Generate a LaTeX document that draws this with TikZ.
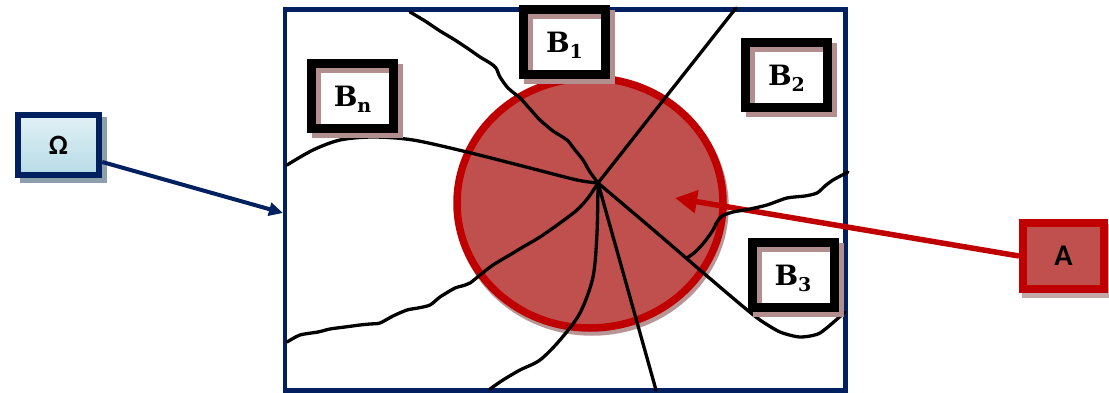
\documentclass[tikz,border=0pt]{standalone}
\usepackage{fontspec}
\newfontfamily\bfont{DejaVu Serif}
\newfontfamily\cfont{Carlito}
\usetikzlibrary{arrows.meta,shapes.geometric}
\definecolor{navy}{RGB}{0,32,96}
\definecolor{redline}{RGB}{192,0,0}
\definecolor{redfill}{RGB}{192,80,77}
\definecolor{shadowB}{RGB}{178,142,142}
\definecolor{shadowO}{RGB}{140,160,172}
\definecolor{shadowA}{RGB}{196,168,168}
\definecolor{shadowC}{RGB}{184,150,150}
\definecolor{omtop}{RGB}{226,241,246}
\definecolor{ombot}{RGB}{182,219,230}
\newcommand{\Bsub}[1]{B\raisebox{-6pt}[0pt][0pt]{\fontsize{19pt}{19pt}\selectfont #1}}
\tikzset{
  bbox/.style={preaction={fill=white},
    preaction={draw=shadowB, transform canvas={xshift=5pt,yshift=-5pt}},
    draw=black, line width=9pt, minimum width=82pt, minimum height=65pt,
    inner sep=0pt, font={\bfont\bfseries\fontsize{28pt}{30pt}\selectfont}},
  ombox/.style={preaction={fill=shadowO, draw=shadowO, transform canvas={xshift=5pt,yshift=-5pt}},
    draw=navy, line width=6.5pt, top color=omtop, bottom color=ombot,
    minimum width=81pt, minimum height=60pt, inner sep=0pt,
    font={\cfont\bfseries\fontsize{28pt}{30pt}\selectfont}},
  abox/.style={preaction={fill=shadowA, draw=shadowA, transform canvas={xshift=3pt,yshift=-5pt}},
    draw=redline, fill=redfill, line width=8pt,
    minimum width=81pt, minimum height=66pt, inner sep=0pt,
    font={\cfont\bfseries\fontsize{30pt}{32pt}\selectfont}},
  region/.style={ellipse, preaction={draw=shadowC, transform canvas={xshift=2pt,yshift=-4pt}},
    draw=redline, fill=redfill, line width=7.5pt, minimum width=266pt, minimum height=250pt, inner sep=0pt},
  frame/.style={draw=navy, line width=4.5pt, minimum width=560.5pt, minimum height=381pt, inner sep=0pt},
  crack/.style={draw=black, line width=3.3pt, line cap=round, line join=round},
  omarrow/.style={draw=navy, line width=4pt, -{Triangle[length=14pt,width=13pt]}},
  aarrow/.style={draw=redline, line width=5.5pt, -{Triangle[length=22pt,width=22pt]}},
}
\begin{document}
\begin{tikzpicture}[x=1pt,y=-1pt]
\useasboundingbox (0,0) rectangle (1109,393);
% domain frame and region
\node[frame] (dom) at (565.25,200) {};
\node[region] (reg) at (590,203) {};
\coordinate (p) at (598,183);
\coordinate (omtip) at (283,213);
\coordinate (atip) at (675,198);
% A box and arrow
\node[abox] (a) at (1063.5,256) {A};
\draw[aarrow] (a.west) -- (atip);
% cracks
\draw[crack] plot[smooth, tension=0.45] coordinates {(p) (590,172) (583,160) (575,150) (567,140) (553,131) (540,120) (530,109) (520,98) (508,88) (500,77) (496,68) (490,63) (480,57) (470,50) (455,40) (440,31) (425,21) (410,12)};
\draw[crack] (p) -- (736,8);
\draw[crack] plot[smooth, tension=0.5] coordinates {(p) (577,180) (530,168) (467,152) (413,140) (373,137) (340,140) (313,150) (287,165)};
\draw[crack] plot[smooth, tension=0.4] coordinates {(p) (650,227) (700,270) (740,304) (760,320) (780,332) (800,337) (820,333) (845,312)};
\draw[crack] plot[smooth, tension=0.45] coordinates {(687,258) (694,253) (700,247) (706,240) (713,230) (717,222) (722,216) (733,212) (750,209) (767,205) (787,198) (805,196) (817,193) (825,186) (833,180) (848,172)};
\draw[crack] (p) -- (656,390);
\draw[crack] plot[smooth, tension=0.5] coordinates {(p) (597,233) (593,277) (580,313) (560,340) (540,360) (520,370) (503,380) (490,389)};
\draw[crack] plot[smooth, tension=0.45] coordinates {(p) (588,198) (577,210) (560,223) (540,237) (523,247) (513,253) (493,265) (480,275) (470,283) (462,286) (455,288) (440,297) (430,305) (418,308) (407,310) (393,316) (380,323) (370,324) (360,325) (345,327) (330,329) (318,332) (300,335) (287,342)};
% B boxes
\node[bbox] (b1) at (564.5,42.5) {\Bsub{1}};
\node[bbox] (b2) at (786.5,75) {\Bsub{2}};
\node[bbox] (b3) at (793,275) {\Bsub{3}};
\node[bbox] (bn) at (352.5,96) {\Bsub{n}};
% Omega box and arrow
\node[ombox] (om) at (58.5,145) {Ω};
\draw[omarrow] ([yshift=-17pt]om.east) -- (omtip);
\end{tikzpicture}
\end{document}
